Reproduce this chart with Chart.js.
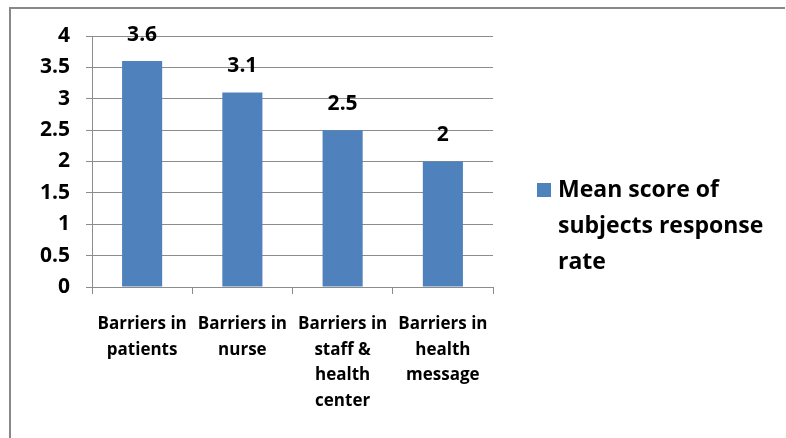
<!DOCTYPE html>
<html>
<head>
<meta charset="utf-8">
<script src="https://cdn.jsdelivr.net/npm/chart.js@4/dist/chart.umd.min.js"></script>
<style>
  body { margin: 0; background: #fff; }
  #wrap { width: 786px; height: 438px; position: relative; }
</style>
</head>
<body>
<div id="wrap"><canvas id="myChart" width="786" height="438"></canvas></div>
<script>
// data
const categories = [
    ["Barriers in", "patients"],
    ["Barriers in", "nurse"],
    ["Barriers in", "staff &", "health", "center"],
    ["Barriers in", "health", "message"]
];
const meanScores = [3.6, 3.1, 2.5, 2];
const seriesName = "Mean score of subjects response rate";
const yMin = 0;
const yMax = 4;
const yStep = 0.5;

const barColor = "#4F81BD";
const lineColor = "#8C8C8C";
const fontFamily = "'Open Sans', 'Liberation Sans', sans-serif";

// grey frame round the chart (only top and left show in the picture)
const framePlugin = {
    id: "frame",
    beforeDraw: (chart) => {
        const ctx = chart.ctx;
        ctx.save();
        ctx.fillStyle = "#fff";
        ctx.fillRect(0, 0, chart.width, chart.height);
        ctx.strokeStyle = "#888888";
        ctx.lineWidth = 2;
        ctx.beginPath();
        ctx.moveTo(10, chart.height);
        ctx.lineTo(10, 8);
        ctx.lineTo(785, 8);
        ctx.stroke();
        ctx.restore();
    }
};

// value labels above each bar
const valueLabels = {
    id: "valueLabels",
    afterDatasetsDraw: (chart) => {
        const ctx = chart.ctx;
        const meta = chart.getDatasetMeta(0);
        ctx.save();
        ctx.font = "bold 21px " + fontFamily;
        ctx.fillStyle = "#000";
        ctx.textAlign = "center";
        ctx.textBaseline = "middle";
        meta.data.forEach((bar, i) => {
            ctx.fillText(String(chart.data.datasets[0].data[i]), bar.x, bar.y - 26);
        });
        ctx.restore();
    }
};

// legend on the right, text wrapped on several lines
const sideLegend = {
    id: "sideLegend",
    afterDraw: (chart) => {
        const ctx = chart.ctx;
        const ds = chart.data.datasets[0];
        ctx.save();
        ctx.font = "bold 23px " + fontFamily;
        const maxW = 222;
        const words = ds.label.split(" ");
        const lines = [];
        let line = "";
        words.forEach(w => {
            const test = line ? line + " " + w : w;
            if (ctx.measureText(test).width > maxW && line) {
                lines.push(line);
                line = w;
            } else {
                line = test;
            }
        });
        lines.push(line);

        const x = 537, y = 190, lh = 36;
        ctx.fillStyle = ds.backgroundColor;
        ctx.fillRect(x, y - 7, 14, 14);
        ctx.fillStyle = "#000";
        ctx.textBaseline = "middle";
        ctx.textAlign = "left";
        lines.forEach((l, i) => ctx.fillText(l, x + 21, y + i * lh));
        ctx.restore();
    }
};

new Chart(document.getElementById("myChart"), {
    type: "bar",
    data: {
        labels: categories,
        datasets: [{
            label: seriesName,
            data: meanScores,
            backgroundColor: barColor,
            borderWidth: 0,
            barPercentage: 1,
            categoryPercentage: 0.4
        }]
    },
    options: {
        responsive: false,
        animation: false,
        devicePixelRatio: 1,
        layout: { padding: { top: 36, right: 293, left: 0, bottom: 0 } },
        plugins: {
            legend: { display: false },
            tooltip: { enabled: false }
        },
        scales: {
            x: {
                afterFit: (scale) => { scale.height = 151; },
                grid: {
                    display: true,
                    offset: true,
                    drawOnChartArea: false,
                    drawTicks: true,
                    tickLength: 7,
                    color: lineColor
                },
                border: { color: lineColor },
                ticks: {
                    color: "#000",
                    padding: 17,
                    maxRotation: 0,
                    autoSkip: false,
                    font: { family: fontFamily, size: 17, weight: "bold", lineHeight: 1.52 }
                }
            },
            y: {
                min: yMin,
                max: yMax,
                afterFit: (scale) => { scale.width = 92; },
                grid: {
                    color: lineColor,
                    tickLength: 6,
                    drawTicks: true
                },
                border: { color: lineColor },
                ticks: {
                    stepSize: yStep,
                    color: "#000",
                    padding: 16,
                    callback: (v) => String(v),
                    font: { family: fontFamily, size: 21, weight: "bold" }
                }
            }
        }
    },
    plugins: [framePlugin, valueLabels, sideLegend]
});
</script>
</body>
</html>
